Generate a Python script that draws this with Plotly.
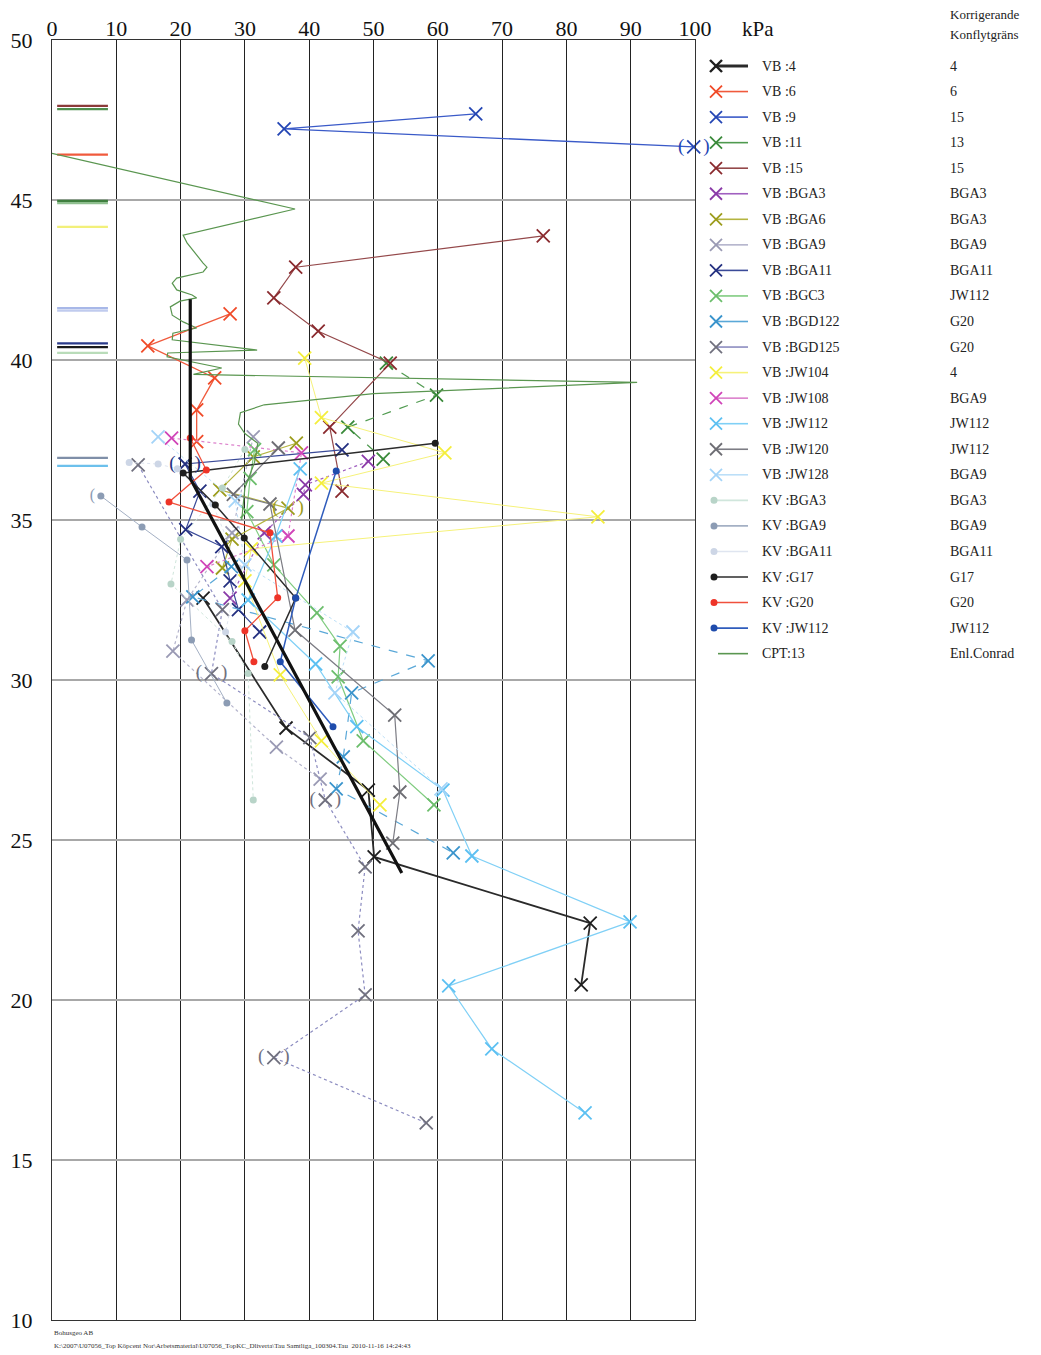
import plotly.graph_objects as go

# ---------------- data: shear strength (kPa) versus level (m) ----------------
# Vane tests (VB), cone tests (KV) and CPT profile
vb4_x = [82.3, 83.7, 50.1, 49.2, 36.4, 23.5]
vb4_y = [20.47, 22.40, 24.47, 26.56, 28.50, 32.56]

vb6_x = [27.7, 14.9, 25.3, 22.5, 22.5]
vb6_y = [41.44, 40.44, 39.44, 38.44, 37.45]

vb9_x = [65.9, 36.1, 99.8]
vb9_y = [47.69, 47.22, 46.66]

vb11_x = [52.0, 59.8, 46.0, 51.5]
vb11_y = [39.90, 38.90, 37.90, 36.90]

vb15_x = [76.4, 37.9, 34.5, 41.4, 52.6, 43.2, 45.1]
vb15_y = [43.88, 42.90, 41.94, 40.90, 39.90, 37.90, 35.90]

vb_bga3_x = [49.2, 39.4, 39.1, 33.0, 27.7]
vb_bga3_y = [36.83, 36.10, 35.80, 34.60, 32.56]

vb_bga6_x = [38.0, 31.3, 26.1, 36.7, 28.0, 26.5]
vb_bga6_y = [37.40, 36.97, 35.94, 35.37, 34.40, 33.50]

vb_bga9_x = [31.3, 28.0, 21.0, 18.8, 34.9, 41.7]
vb_bga9_y = [37.60, 34.60, 32.50, 30.90, 27.90, 26.90]

vb_bga11_x = [45.1, 20.7, 23.0, 20.8, 26.4, 27.7, 29.0, 32.3]
vb_bga11_y = [37.19, 36.75, 35.90, 34.70, 34.17, 33.10, 32.20, 31.50]

vb_bgc3_x = [31.5, 30.8, 30.3, 34.5, 41.2, 44.8, 44.5, 48.4, 59.4]
vb_bgc3_y = [37.20, 36.30, 35.26, 33.60, 32.10, 31.06, 30.10, 28.10, 26.10]

vb_bgd122_x = [27.9, 21.9, 58.5, 46.6, 45.3, 44.2, 62.4]
vb_bgd122_y = [33.54, 32.60, 30.60, 29.60, 27.60, 26.60, 24.60]

vb_bgd125_x = [13.4, 26.5, 24.8, 40.1, 42.5, 48.7, 47.6, 48.7, 34.5, 58.2]
vb_bgd125_y = [36.72, 32.20, 30.20, 28.20, 26.25, 24.16, 22.16, 20.16, 18.20, 16.16]

vb_jw104_x = [39.3, 41.9, 61.1, 41.9, 84.9, 31.0, 30.0, 35.5, 41.9, 51.0]
vb_jw104_y = [40.06, 38.20, 37.10, 36.15, 35.10, 34.10, 33.10, 30.16, 28.10, 26.10]

vb_jw108_x = [18.6, 38.8, 36.7, 24.1]
vb_jw108_y = [37.56, 37.10, 34.50, 33.54]

vb_jw112_x = [38.6, 34.8, 30.5, 41.0, 47.4, 60.8, 65.3, 89.9, 61.7, 68.4, 82.9]
vb_jw112_y = [36.60, 34.50, 32.50, 30.50, 28.54, 26.56, 24.50, 22.44, 20.44, 18.47, 16.47]

vb_jw120_x = [35.2, 28.2, 33.9, 37.8, 53.3, 54.1, 53.0]
vb_jw120_y = [37.25, 35.80, 35.50, 31.56, 28.90, 26.50, 24.90]

vb_jw128_x = [16.5, 28.5, 30.0, 46.8, 44.0, 60.5]
vb_jw128_y = [37.60, 35.60, 33.60, 31.50, 29.60, 26.60]

kv_bga3_x = [30.0, 26.5, 20.0, 18.5, 28.0, 30.5, 31.3]
kv_bga3_y = [37.20, 36.00, 34.40, 33.00, 31.20, 30.20, 26.25]

kv_bga9_x = [7.6, 14.0, 21.0, 21.7, 27.2]
kv_bga9_y = [35.75, 34.78, 33.75, 31.25, 29.28]

kv_bga11_x = [12.0, 16.5, 19.5, 25.0, 29.0, 27.0]
kv_bga11_y = [36.80, 36.75, 36.60, 35.50, 33.50, 31.50]

kv_g17_x = [59.6, 20.4, 25.4, 29.9, 37.9, 33.1]
kv_g17_y = [37.40, 36.47, 35.47, 34.44, 32.56, 30.42]

kv_g20_x = [21.5, 24.0, 18.2, 33.9, 35.1, 30.0, 31.4]
kv_g20_y = [37.56, 36.56, 35.56, 34.60, 32.57, 31.54, 30.57]

kv_jw112_x = [44.2, 37.9, 35.5, 43.7]
kv_jw112_y = [36.53, 32.56, 30.57, 28.54]

cpt13_x = [0.0, 37.8, 20.4, 21.0, 23.5, 24.1, 23.5, 19.4, 18.7, 19.4, 21.8, 22.5,
           19.9, 18.4, 18.7, 20.4, 22.5, 18.8, 18.7, 31.9, 18.0, 17.9, 26.4, 22.0,
           91.0, 50.0, 33.0, 29.3, 29.0, 30.0, 32.0, 31.5, 30.0, 29.5]
cpt13_y = [46.46, 44.72, 43.90, 43.66, 43.03, 42.90, 42.75, 42.56, 42.40, 42.19, 42.03, 41.94,
           41.84, 41.66, 41.40, 41.19, 41.00, 40.84, 40.63, 40.31, 40.22, 40.10, 39.75, 39.55,
           39.30, 38.95, 38.60, 38.35, 38.00, 37.70, 37.40, 36.80, 36.00, 35.00]

# interpreted design line
tolkning_x = [21.5, 21.5, 54.4]
tolkning_y = [41.9, 36.3, 23.97]

# uncertain readings shown in brackets: (series label, x, y)
bracket_pts = [("VB :9", 99.8, 46.66), ("VB :BGA11", 20.7, 36.75), ("VB :BGA6", 36.7, 35.37),
               ("VB :BGD125", 24.8, 30.20), ("VB :BGD125", 42.5, 26.25),
               ("VB :BGD125", 34.5, 18.20)]
kv_bracket_pts = [("KV :BGA9", 6.3, 35.75)]

# corrected liquid limit levels, short bars at the left edge
level_y = [47.94, 47.84, 46.42, 44.97, 44.90, 44.16, 41.62, 41.54, 40.52, 40.40, 40.22, 36.94, 36.69]
level_c = ["#8b3a3a", "#4f8f4f", "#f05a3c", "#3f7f3f", "#8fbf8f", "#f2f07a", "#a8b8e8", "#c0cbee",
           "#2a3a8a", "#1a1a1a", "#b9dcb9", "#7f8fa8", "#6cc0ec"]

# legend text
labels = ["VB :4", "VB :6", "VB :9", "VB :11", "VB :15", "VB :BGA3", "VB :BGA6", "VB :BGA9",
          "VB :BGA11", "VB :BGC3", "VB :BGD122", "VB :BGD125", "VB :JW104", "VB :JW108",
          "VB :JW112", "VB :JW120", "VB :JW128", "KV :BGA3", "KV :BGA9", "KV :BGA11",
          "KV :G17", "KV :G20", "KV :JW112", "CPT:13"]
konflyt = ["4", "6", "15", "13", "15", "BGA3", "BGA3", "BGA9", "BGA11", "JW112", "G20", "G20",
           "4", "BGA9", "JW112", "JW112", "BGA9", "BGA3", "BGA9", "BGA11", "G17", "G20",
           "JW112", "Enl.Conrad"]

# ---------------- styles ----------------
series = [
    (vb4_x, vb4_y, "vb", "#1e1e1e", "#2a2a2a", 1.8, "solid"),
    (vb6_x, vb6_y, "vb", "#f04a28", "#f05a3c", 1.3, "solid"),
    (vb9_x, vb9_y, "vb", "#2446b4", "#3a5ac8", 1.3, "solid"),
    (vb11_x, vb11_y, "vb", "#3a8a3a", "#4f9a4f", 1.2, "dash"),
    (vb15_x, vb15_y, "vb", "#8a2a2e", "#94484a", 1.2, "solid"),
    (vb_bga3_x, vb_bga3_y, "vb", "#8a3aa8", "#a060c0", 1.2, "dot"),
    (vb_bga6_x, vb_bga6_y, "vb", "#9c9c1c", "#b4b440", 1.2, "solid"),
    (vb_bga9_x, vb_bga9_y, "vb", "#9a9ab4", "#b4b4cc", 1.2, "dot"),
    (vb_bga11_x, vb_bga11_y, "vb", "#243080", "#3a4a98", 1.2, "solid"),
    (vb_bgc3_x, vb_bgc3_y, "vb", "#6cbe6c", "#80cc80", 1.2, "solid"),
    (vb_bgd122_x, vb_bgd122_y, "vb", "#3a94cc", "#5aa8d8", 1.2, "dash"),
    (vb_bgd125_x, vb_bgd125_y, "vb", "#70707e", "#8c8cc0", 1.2, "dot"),
    (vb_jw104_x, vb_jw104_y, "vb", "#f4ee3c", "#f6f27a", 1.0, "solid"),
    (vb_jw108_x, vb_jw108_y, "vb", "#d044b8", "#dc80cc", 1.2, "dot"),
    (vb_jw112_x, vb_jw112_y, "vb", "#5cc0f2", "#80d0f6", 1.2, "solid"),
    (vb_jw120_x, vb_jw120_y, "vb", "#6e6e74", "#7c7c84", 1.2, "solid"),
    (vb_jw128_x, vb_jw128_y, "vb", "#a4d4f8", "#bcdff8", 1.0, "dot"),
    (kv_bga3_x, kv_bga3_y, "kv", "#b8d4c8", "#d0e6dc", 1.0, "dot"),
    (kv_bga9_x, kv_bga9_y, "kv", "#8c9cb4", "#a4b0c4", 1.0, "solid"),
    (kv_bga11_x, kv_bga11_y, "kv", "#cdd6e6", "#dfe5f0", 1.0, "dot"),
    (kv_g17_x, kv_g17_y, "kv", "#1e1e1e", "#2c2c2c", 1.5, "solid"),
    (kv_g20_x, kv_g20_y, "kv", "#ee3428", "#f0503c", 1.3, "solid"),
    (kv_jw112_x, kv_jw112_y, "kv", "#1f4cac", "#2f5cbc", 1.5, "solid"),
    (cpt13_x, cpt13_y, "cpt", "#5a9650", "#5a9650", 1.2, "solid"),
]

W, H = 1041, 1355
X0, X1, Y0, Y1 = 52, 695, 40, 1320          # plot box in pixels
SERIF = "Liberation Serif, Times New Roman, serif"


def px(xp):
    return xp / W


def py(yp):
    return 1 - yp / H


fig = go.Figure()

# short level bars at the left edge
for ly, lc in zip(level_y, level_c):
    fig.add_trace(go.Scatter(x=[0.8, 8.7], y=[ly, ly], mode="lines",
                             line=dict(color=lc, width=2.2), showlegend=False,
                             hoverinfo="skip"))

# measurement series
for (sx, sy, kind, mc, lc, lw, dash), name in zip(series, labels):
    if kind == "vb":
        fig.add_trace(go.Scatter(
            x=sx, y=sy, mode="lines+markers", name=name, showlegend=False, cliponaxis=False,
            line=dict(color=lc, width=lw, dash=dash),
            marker=dict(symbol="x-thin", size=13, line=dict(width=1.8, color=mc))))
    elif kind == "kv":
        fig.add_trace(go.Scatter(
            x=sx, y=sy, mode="lines+markers", name=name, showlegend=False,
            line=dict(color=lc, width=lw, dash=dash),
            marker=dict(symbol="circle", size=7, color=mc)))
    else:
        fig.add_trace(go.Scatter(
            x=sx, y=sy, mode="lines", name=name, showlegend=False,
            line=dict(color=lc, width=lw)))

# interpreted line
fig.add_trace(go.Scatter(x=tolkning_x, y=tolkning_y, mode="lines", showlegend=False,
                         line=dict(color="#111111", width=3.2), hoverinfo="skip"))

# brackets round uncertain readings
color_of = {name: s[3] for s, name in zip(series, labels)}
for name, bx, by in bracket_pts:
    fig.add_trace(go.Scatter(x=[bx], y=[by], mode="text", cliponaxis=False,
                             text=["(\u00a0\u00a0\u00a0\u00a0)"], showlegend=False,
                             textfont=dict(family=SERIF, size=19, color=color_of[name]),
                             hoverinfo="skip"))
for name, bx, by in kv_bracket_pts:
    fig.add_trace(go.Scatter(x=[bx], y=[by], mode="text", text=["("], showlegend=False,
                             textfont=dict(family=SERIF, size=16, color=color_of[name]),
                             hoverinfo="skip"))

# ---------------- legend drawn with paper shapes ----------------
shapes = []
annotations = []
row0, drow = 66.0, 25.55
for i, ((sx, sy, kind, mc, lc, lw, dash), name, kf) in enumerate(zip(series, labels, konflyt)):
    ry = row0 + i * drow
    if kind == "vb":
        shapes.append(dict(type="line", xref="paper", yref="paper",
                           x0=px(716), x1=px(748), y0=py(ry), y1=py(ry),
                           line=dict(color=lc, width=3 if i == 0 else 1.6)))
        mw = 2.4 if i == 0 else 1.8
        for dy in (-6, 6):
            shapes.append(dict(type="line", xref="paper", yref="paper",
                               x0=px(710), x1=px(722), y0=py(ry - dy), y1=py(ry + dy),
                               line=dict(color=mc, width=mw)))
    elif kind == "kv":
        shapes.append(dict(type="line", xref="paper", yref="paper",
                           x0=px(714), x1=px(748), y0=py(ry), y1=py(ry),
                           line=dict(color=lc, width=1.6)))
        shapes.append(dict(type="circle", xref="paper", yref="paper",
                           x0=px(710.5), x1=px(717.5), y0=py(ry + 3.5), y1=py(ry - 3.5),
                           fillcolor=mc, line=dict(width=0)))
    else:
        shapes.append(dict(type="line", xref="paper", yref="paper",
                           x0=px(718), x1=px(748), y0=py(ry), y1=py(ry),
                           line=dict(color=lc, width=1.6)))
    annotations.append(dict(x=px(760), y=py(ry), xref="paper", yref="paper", text=name,
                            showarrow=False, xanchor="left", yanchor="middle",
                            font=dict(family=SERIF, size=14, color="#222")))
    annotations.append(dict(x=px(948), y=py(ry), xref="paper", yref="paper", text=kf,
                            showarrow=False, xanchor="left", yanchor="middle",
                            font=dict(family=SERIF, size=14, color="#222")))

annotations += [
    dict(x=px(948), y=py(15), xref="paper", yref="paper", text="Korrigerande", showarrow=False,
         xanchor="left", yanchor="middle", font=dict(family=SERIF, size=13, color="#222")),
    dict(x=px(948), y=py(35), xref="paper", yref="paper", text="Konflytgräns", showarrow=False,
         xanchor="left", yanchor="middle", font=dict(family=SERIF, size=13, color="#222")),
    dict(x=px(740), y=py(29), xref="paper", yref="paper", text="kPa", showarrow=False,
         xanchor="left", yanchor="middle", font=dict(family=SERIF, size=21, color="#111")),
    dict(x=px(52), y=py(1333), xref="paper", yref="paper", text="Bohusgeo AB", showarrow=False,
         xanchor="left", yanchor="middle", font=dict(family=SERIF, size=7, color="#333")),
    dict(x=px(52), y=py(1346), xref="paper", yref="paper",
         text="K:\\2007\\U07056_Top Köpcent Nor\\Arbetsmaterial\\U07056_TopKC_Dliverta\\Tau Samtliga_100304.Tau  2010-11-16 14:24:43",
         showarrow=False, xanchor="left", yanchor="middle",
         font=dict(family=SERIF, size=7, color="#333")),
]

fig.update_layout(
    width=W, height=H,
    margin=dict(l=0, r=0, t=0, b=0, autoexpand=False),
    paper_bgcolor="white", plot_bgcolor="white",
    showlegend=False,
    shapes=shapes,
    annotations=annotations,
    xaxis=dict(domain=[X0 / W, X1 / W], range=[0, 100], side="top", automargin=False,
               tickvals=list(range(0, 101, 10)), showgrid=True, gridcolor="#222",
               gridwidth=1, zeroline=False, showline=True, linecolor="#333", linewidth=1.2,
               mirror=True, ticks="", ticklabelstandoff=-6,
               tickfont=dict(family=SERIF, size=22, color="#111")),
    yaxis=dict(domain=[1 - Y1 / H, 1 - Y0 / H], range=[10, 50], automargin=False,
               tickvals=list(range(10, 51, 5)), showgrid=True, gridcolor="#a8a8a8",
               gridwidth=2, zeroline=False, showline=True, linecolor="#333", linewidth=1.2,
               mirror=True, ticks="", ticklabelstandoff=14,
               tickfont=dict(family=SERIF, size=22, color="#111")),
)

fig.write_html("out.html")
